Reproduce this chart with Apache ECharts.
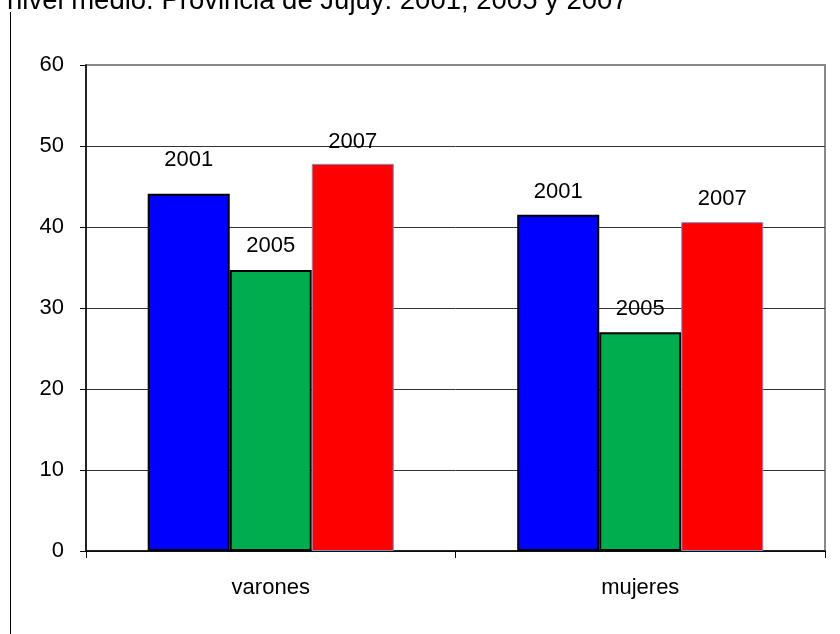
<!DOCTYPE html>
<html>
<head>
<meta charset="utf-8">
<script src="https://cdn.jsdelivr.net/npm/echarts@6/dist/echarts.min.js"></script>
<style>
  html, body { margin: 0; padding: 0; background: #fff; }
  #chart { width: 840px; height: 634px; }
</style>
</head>
<body>
<div id="chart"></div>
<script>
// data
var categories = ['varones', 'mujeres'];
var years = ['2001', '2005', '2007'];
var v2001 = [44.1, 41.5];
var v2005 = [34.7, 27.0];
var v2007 = [47.8, 40.6];
var yTicks = [0, 10, 20, 30, 40, 50, 60];

var font = 'Liberation Sans, Arial, sans-serif';
var chart = echarts.init(document.getElementById('chart'));

function barSeries(name, values, color, border, borderW, dist) {
  return {
    name: name,
    type: 'bar',
    barGap: 0,
    barCategoryGap: '33.4%',
    itemStyle: { color: color, borderColor: border, borderWidth: borderW },
    label: {
      show: true,
      position: 'top',
      distance: 13,
      formatter: name,
      color: '#000',
      fontFamily: font,
      fontSize: 22
    },
    data: values.map(function (v, i) {
      return dist && dist[i] != null ? { value: v, label: { distance: dist[i] } } : v;
    })
  };
}

var option = {
  animation: false,
  backgroundColor: '#fff',
  graphic: [
    {
      // title is cut off by the top edge in the original
      type: 'text',
      left: 7,
      top: -13,
      style: {
        text: 'nivel medio. Provincia de Jujuy: 2001, 2005 y 2007',
        font: '27.5px ' + font,
        fill: '#000'
      }
    },
    {
      type: 'line',
      shape: { x1: 10.5, y1: 12, x2: 10.5, y2: 634 },
      style: { stroke: '#000', lineWidth: 1 }
    }
  ],
  grid: {
    left: 86, right: 15, top: 65, bottom: 83,
    show: true,
    borderColor: '#888',
    borderWidth: 2
  },
  xAxis: {
    type: 'category',
    data: categories,
    axisLine: { lineStyle: { color: '#000', width: 1.5 } },
    axisTick: { show: true, length: 7, lineStyle: { color: '#000' } },
    axisLabel: { color: '#000', fontFamily: font, fontSize: 22, margin: 26 }
  },
  yAxis: {
    type: 'value',
    min: yTicks[0],
    max: yTicks[yTicks.length - 1],
    interval: 10,
    axisLine: { show: true, lineStyle: { color: '#000', width: 1.5 } },
    axisTick: { show: true, length: 6, lineStyle: { color: '#000' } },
    axisLabel: { color: '#000', fontFamily: font, fontSize: 22, margin: 22 },
    splitLine: {
      show: true,
      lineStyle: { color: ['#333', '#333', '#333', '#333', '#333', '#333', '#888'], width: 1 }
    }
  },
  series: [
    barSeries(years[0], v2001, '#0000ff', '#000', 2, [23, 12]),
    barSeries(years[1], v2005, '#00ad4e', '#000', 2, [13, 12]),
    barSeries(years[2], v2007, '#ff0000', '#8090c0', 1, [11, 12])
  ]
};

chart.setOption(option);
</script>
</body>
</html>
